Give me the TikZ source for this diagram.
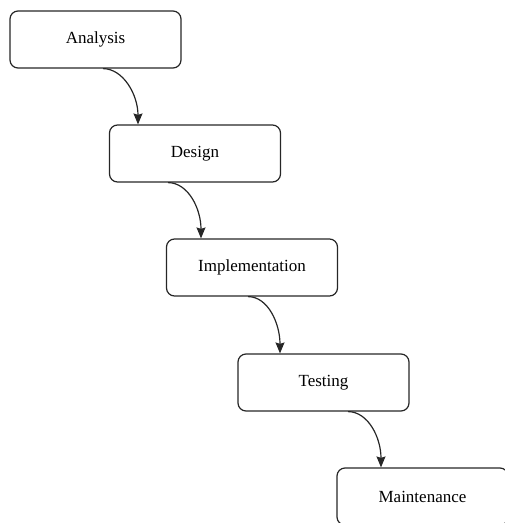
\documentclass[tikz,border=0pt]{standalone}
\usepackage{fontspec}
\setmainfont{Liberation Serif}
\usetikzlibrary{arrows.meta}
\begin{document}
\begin{tikzpicture}[x=1pt,y=-1pt,
  stage/.style={draw=black!85, line width=1.2pt, rounded corners=8pt, minimum width=171pt, minimum height=57pt, inner sep=0pt, font=\fontsize{17}{20}\selectfont, text=black},
  arr/.style={draw=black!85, line width=1.2pt, -{Stealth[length=11pt,width=9pt,inset=1.5pt]}}]
\useasboundingbox (0,0) rectangle (505,523);
\clip (0,0) rectangle (505,523);
\node[stage] (a) at (95.5,39.5) {Analysis};
\node[stage] (d) at (195,153.5) {Design};
\node[stage] (i) at (252,267.5) {Implementation};
\node[stage] (t) at (323.5,382.5) {Testing};
\node[stage] (m) at (422.5,496.5) {Maintenance};
\draw[arr] ([xshift=7.5pt]a.south) .. controls +(20,0) and +(0,-30) .. ([xshift=-57pt]d.north);
\draw[arr] ([xshift=-27pt]d.south) .. controls +(20,0) and +(0,-30) .. ([xshift=-51pt]i.north);
\draw[arr] ([xshift=-4pt]i.south) .. controls +(20,0) and +(0,-30) .. ([xshift=-43.5pt]t.north);
\draw[arr] ([xshift=24.5pt]t.south) .. controls +(20,0) and +(0,-30) .. ([xshift=-41.5pt]m.north);
\end{tikzpicture}
\end{document}
